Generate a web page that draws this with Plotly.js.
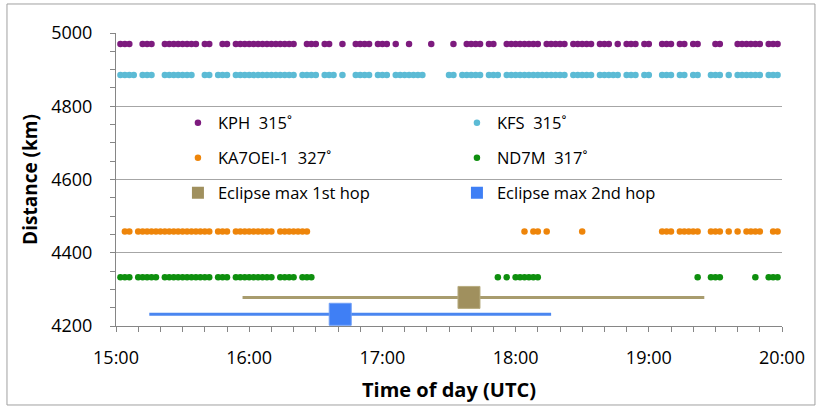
<!DOCTYPE html>
<html><head><meta charset="utf-8">
<script src="https://cdn.plot.ly/plotly-3.0.1.min.js"></script>
<style>html,body{margin:0;padding:0;background:#fff}</style>
</head><body><div id="chart" style="width:823px;height:411px"></div>
<script>
// times are minutes after 15:00 UTC
const kphMinutes = [2,4,6, 12,14,16, 22,24,26,28,30,32,34,36, 40,42, 48,50,
  54,56,58,60,62,64,66,68,70,72,74,76,78,80, 86,88,90, 94,96, 102, 108,110,112,114,
  118,120,122, 126, 132, 142, 152, 158,160,162,164, 168,170,
  176,178,180,182,184,186,188,190, 194,196,198,200,202, 206,208,210,212,214,
  218,220,222, 226, 230,232,234, 238,240, 246,248,250, 254,256, 260,262, 270,272,
  280,282,284,286,288,290, 294,296,298];
const kphDistance = 4970;

const kfsMinutes = [2,4,6,8, 12,14,16, 22,24,26,28,30,32,34, 40,42, 46,48,50,
  54,56,58,60,62,64,66,68,70,72,74,76,78,80, 84,86,88,90, 94,96,98, 102, 108,110,112,114,
  118,120,122, 126,128,130,132,134,136,138, 150,152, 156,158,160,162,164, 168,170,172,
  176,178,180,182,184,186,188,190,192,194,196,198,200,202, 206,208,210,212,214,
  218,220,222,224,226, 230,232,234, 238,240, 246,248,250, 254,256, 260,262, 268,270,272, 276,
  280,282,284,286,288,290, 294,296,298];
const kfsDistance = 4885;

const ka7oeiMinutes = [4,6, 10,12,14,16,18,20,22,24,26,28,30,32,34,36,38,40,42, 46,48,50,
  54,56,58,60,62,64,66,68,70, 74,76,78,80,82,84,86,
  184,188,190,194, 210, 246,248,250, 254,256,258,260,262, 268,270,272, 276, 280,
  284,286,288,290, 296,298];
const ka7oeiDistance = 4458;

const nd7mMinutes = [2,4,6, 10,12,14,16,18, 22,24,26,28,30,32,34,36,38,40,42, 46,48,50,
  54,56,58,60,62,64,66,68,70, 74,76,78,80, 84,86,88,
  172, 176, 180,182,184,186,188,190, 262, 268,270,272, 288, 294,296,298];
const nd7mDistance = 4333;

// eclipse maxima: centre (minutes after 15:00), spread before / after (minutes)
const hop1 = {name: 'Eclipse max 1st hop', centre: 159, before: 102, after: 106, distance: 4278};
const hop2 = {name: 'Eclipse max 2nd hop', centre: 101, before: 86, after: 95, distance: 4232};

const hourTicks = [15,16,17,18,19,20];
const hourLabels = ['15:00','16:00','17:00','18:00','19:00','20:00'];

const toH = m => 15 + m / 60;
const FONT = '"Open Sans", Lato, sans-serif';

function dots(name, mins, dist, color, legend) {
  return {
    type: 'scatter', mode: 'markers', name: name,
    x: mins.map(toH), y: mins.map(() => dist),
    marker: {color: color, size: 6.5, symbol: 'circle'},
    legend: legend, hoverinfo: 'skip'
  };
}
function hop(h, lineColor, markColor, edge) {
  return {
    type: 'scatter', mode: 'markers', name: h.name, showlegend: false,
    x: [toH(h.centre)], y: [h.distance],
    marker: {color: markColor, size: 22, symbol: 'square', line: {color: edge, width: 1}},
    error_x: {type: 'data', symmetric: false, array: [h.after / 60], arrayminus: [h.before / 60],
      color: lineColor, thickness: 3, width: 0},
    hoverinfo: 'skip'
  };
}
function hopKey(h, markColor) {
  return {
    type: 'scatter', mode: 'markers', name: h.name, x: [null], y: [null],
    marker: {color: markColor, size: 12, symbol: 'square'}, legend: 'legend3'
  };
}

const data = [
  dots('KPH\u00a0 315˚', kphMinutes, kphDistance, '#7D1B7E', 'legend'),
  dots('KFS\u00a0 315˚', kfsMinutes, kfsDistance, '#5CBBD5', 'legend'),
  dots('KA7OEI-1\u00a0 327˚', ka7oeiMinutes, ka7oeiDistance, '#EE850A', 'legend2'),
  dots('ND7M\u00a0 317˚', nd7mMinutes, nd7mDistance, '#0E8F0E', 'legend2'),
  hop(hop1, '#A89C6E', '#A0905E', '#B8AC80'),
  hop(hop2, '#4A86F0', '#3F7FF5', '#6F9EF5'),
  hopKey(hop1, '#A0905E'),
  hopKey(hop2, '#3F7FF5')
];

function legendAt(y) {
  return {orientation: 'h', x: 0.093, xanchor: 'left', y: y, yanchor: 'middle',
    entrywidth: 234, entrywidthmode: 'pixels', bgcolor: 'rgba(0,0,0,0)',
    borderwidth: 0, font: {family: FONT, size: 16.5, color: '#000'}, itemsizing: 'trace'};
}

const layout = {
  width: 823, height: 411,
  margin: {l: 116, r: 41, t: 33, b: 85},
  paper_bgcolor: '#fff', plot_bgcolor: '#fff',
  font: {family: FONT, color: '#000'},
  showlegend: true,
  legend: legendAt(0.693),
  legend2: legendAt(0.573),
  legend3: legendAt(0.454),
  xaxis: {
    range: [15, 20], tickvals: hourTicks, ticktext: hourLabels,
    ticks: 'outside', ticklen: 5, tickcolor: '#868686', tickwidth: 1,
    minor: {dtick: 1/6, tick0: 15, ticks: 'outside', ticklen: 5, tickcolor: '#868686', showgrid: false},
    showline: true, linecolor: '#868686', linewidth: 1, showgrid: false, zeroline: false,
    tickfont: {family: FONT, size: 18, color: '#000'}, ticklabelstandoff: 10,
    title: {text: '<b>Time of day (UTC)</b>', font: {family: FONT, size: 20, color: '#000'}, standoff: 15}
  },
  yaxis: {
    range: [4200, 5000], dtick: 200, tick0: 4200,
    ticks: 'outside', ticklen: 5, tickcolor: '#868686', tickwidth: 1,
    minor: {dtick: 50, ticks: 'outside', ticklen: 5, tickcolor: '#868686', showgrid: false},
    showline: true, linecolor: '#868686', linewidth: 1,
    showgrid: true, gridcolor: '#A6A6A6', gridwidth: 1, zeroline: false,
    tickfont: {family: FONT, size: 18, color: '#000'}, ticklabelstandoff: 14,
    title: {text: '<b>Distance (km)</b>', font: {family: FONT, size: 19, color: '#000'}, standoff: 8}
  },
  shapes: [{type: 'rect', xref: 'paper', yref: 'paper',
    x0: -0.1637, x1: 1.0495, y0: -0.2696, y1: 1.099,
    line: {color: '#A0A0A0', width: 1}, layer: 'below'}]
};

Plotly.newPlot('chart', data, layout, {displayModeBar: false, staticPlot: true});
</script></body></html>
